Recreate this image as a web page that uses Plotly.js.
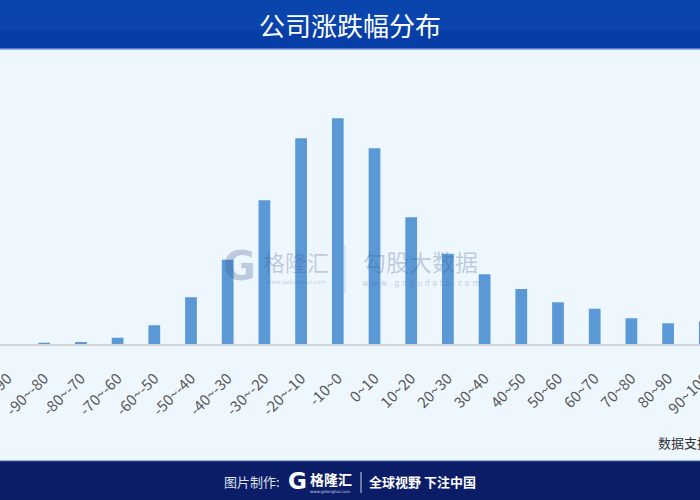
<!DOCTYPE html>
<html>
<head>
<meta charset="utf-8">
<script src="https://cdn.plot.ly/plotly-3.0.1.min.js"></script>
<style>
  html, body { margin: 0; padding: 0; background: #eef6fe; }
  #wrap { position: relative; width: 700px; height: 500px; overflow: hidden; background: #eef6fe; }
  #chart { position: absolute; left: -50px; top: 0; width: 800px; height: 500px; }
</style>
</head>
<body>
<div id="wrap"><div id="chart"></div></div>
<script>
// ---- data ----
var categories = ["-100~-90", "-90~-80", "-80~-70", "-70~-60", "-60~-50", "-50~-40", "-40~-30",
  "-30~-20", "-20~-10", "-10~0", "0~10", "10~20", "20~30", "30~40", "40~50", "50~60",
  "60~70", "70~80", "80~90", "90~100", "100以上"];
var companyCounts = [0, 1.5, 2.3, 6.6, 19, 47, 84.6, 144, 206, 226, 196, 127, 90.6, 70, 55.3,
  42, 35.6, 26, 21, 22.6, 25];
var titleText = "公司涨跌幅分布";
var sourceText = "数据支持：勾股大数据";

// ---- helpers: page pixel -> paper coords (div is 800 wide, shifted 50px left) ----
var W = 800, H = 500, SHIFT = 50;
function px(x) { return (x + SHIFT) / W; }
function py(y) { return 1 - y / H; }

var BASE_Y = 344.3, TOP_Y = 60;
var BAR_C0 = 7.5, BAR_STEP = 36.7;
var i0 = (0 - (BAR_C0 + SHIFT)) / BAR_STEP;
var i1 = (W - (BAR_C0 + SHIFT)) / BAR_STEP;

var trace = {
  type: "bar",
  x: categories,
  y: companyCounts,
  width: 0.32,
  marker: { color: "#5a98d6" },
  hoverinfo: "x+y"
};

var wm = "rgba(60,90,140,0.28)";

var layout = {
  width: W, height: H,
  margin: { l: 0, r: 0, t: 0, b: 0 },
  paper_bgcolor: "#eef6fe",
  plot_bgcolor: "rgba(0,0,0,0)",
  showlegend: false,
  bargap: 0.68,
  xaxis: {
    type: "category",
    range: [i0, i1],
    showgrid: false, zeroline: false,
    showline: true, linecolor: "#d0d5da", linewidth: 1.5,
    ticks: "", tickangle: -45,
    ticklabelstandoff: 18,
    tickfont: { family: "Noto Sans CJK SC, DejaVu Sans, sans-serif", size: 15, color: "#595959" },
    automargin: false, fixedrange: true
  },
  yaxis: {
    domain: [py(BASE_Y), py(TOP_Y)],
    range: [0, BASE_Y - TOP_Y],
    visible: false, showgrid: false, zeroline: false, fixedrange: true
  },
  shapes: [
    // header bar
    { type: "rect", xref: "paper", yref: "paper", x0: -0.1, x1: 1.1, y0: py(48.5), y1: 1.01,
      fillcolor: "#0945ad", line: { width: 0 }, layer: "below" },
    { type: "rect", xref: "paper", yref: "paper", x0: -0.1, x1: 1.1, y0: py(48.5), y1: py(30),
      fillcolor: "rgba(0,40,150,0.25)", line: { width: 0 }, layer: "below" },
    { type: "line", xref: "paper", yref: "paper", x0: -0.1, x1: 1.1, y0: py(49), y1: py(49),
      line: { color: "#3f6fc2", width: 1.2 }, layer: "below" },
    // footer bar
    { type: "rect", xref: "paper", yref: "paper", x0: -0.1, x1: 1.1, y0: -0.01, y1: py(461),
      fillcolor: "#0b1d67", line: { width: 0 }, layer: "below" },
    { type: "line", xref: "paper", yref: "paper", x0: -0.1, x1: 1.1, y0: py(461), y1: py(461),
      line: { color: "#4a6cb0", width: 1 }, layer: "below" },
    // footer separator
    { type: "line", xref: "paper", yref: "paper", x0: px(361), x1: px(361), y0: py(472), y1: py(493),
      line: { color: "rgba(255,255,255,0.8)", width: 1 } },
    // watermark separator
    { type: "line", xref: "paper", yref: "paper", x0: px(345), x1: px(345), y0: py(245), y1: py(293),
      line: { color: "rgba(60,90,140,0.18)", width: 1.2 } }
  ],
  annotations: [
    { text: titleText, xref: "paper", yref: "paper", x: px(350), y: py(24.5),
      xanchor: "center", yanchor: "middle", showarrow: false,
      font: { family: "Noto Sans CJK SC, sans-serif", size: 26, color: "#ffffff" } },
    { text: sourceText, xref: "paper", yref: "paper", x: px(656), y: py(442.5),
      xanchor: "left", yanchor: "middle", showarrow: false,
      font: { family: "Noto Sans CJK SC, sans-serif", size: 13, color: "#333333" } },
    // footer
    { text: "图片制作:", xref: "paper", yref: "paper", x: px(222), y: py(481),
      xanchor: "left", yanchor: "middle", showarrow: false,
      font: { family: "Noto Sans CJK SC, sans-serif", size: 13, color: "#dde2ee" } },
    { text: "<b>G</b>", xref: "paper", yref: "paper", x: px(297.5), y: py(481),
      xanchor: "center", yanchor: "middle", showarrow: false,
      font: { family: "DejaVu Sans, sans-serif", size: 23, color: "#ffffff" } },
    { text: "<b>格隆汇</b>", xref: "paper", yref: "paper", x: px(308), y: py(478.5),
      xanchor: "left", yanchor: "middle", showarrow: false,
      font: { family: "Noto Sans CJK SC, sans-serif", size: 14, color: "#ffffff" } },
    { text: "www.gelonghui.com", xref: "paper", yref: "paper", x: px(329.5), y: py(491),
      xanchor: "center", yanchor: "middle", showarrow: false,
      font: { family: "DejaVu Sans, sans-serif", size: 4, color: "#c8d0e4" } },
    { text: "<b>全球视野 下注中国</b>", xref: "paper", yref: "paper", x: px(367), y: py(481),
      xanchor: "left", yanchor: "middle", showarrow: false,
      font: { family: "Noto Sans CJK SC, sans-serif", size: 13, color: "#ffffff" } },
    // watermark
    { text: "<b>G</b>", xref: "paper", yref: "paper", x: px(239), y: py(266),
      xanchor: "center", yanchor: "middle", showarrow: false,
      font: { family: "DejaVu Sans, sans-serif", size: 40, color: wm } },
    { text: "格隆汇", xref: "paper", yref: "paper", x: px(296), y: py(261),
      xanchor: "center", yanchor: "middle", showarrow: false,
      font: { family: "Noto Sans CJK SC, sans-serif", size: 22, color: wm } },
    { text: "www.gelonghui.com", xref: "paper", yref: "paper", x: px(296), y: py(282),
      xanchor: "center", yanchor: "middle", showarrow: false,
      font: { family: "DejaVu Sans, sans-serif", size: 6, color: wm } },
    { text: "勾股大数据", xref: "paper", yref: "paper", x: px(420), y: py(260.5),
      xanchor: "center", yanchor: "middle", showarrow: false,
      font: { family: "Noto Sans CJK SC, sans-serif", size: 23, color: wm } },
    { text: "w w w . g o g u d a t a . c o m", xref: "paper", yref: "paper", x: px(420.5), y: py(283),
      xanchor: "center", yanchor: "middle", showarrow: false,
      font: { family: "DejaVu Sans, sans-serif", size: 8, color: wm } }
  ]
};

Plotly.newPlot("chart", [trace], layout, { displayModeBar: false, staticPlot: true });
</script>
</body>
</html>
